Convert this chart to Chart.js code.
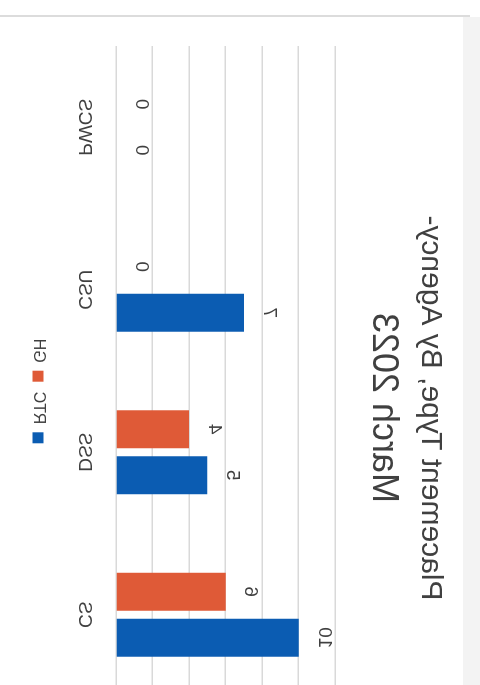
<!DOCTYPE html>
<html>
<head>
<meta charset="utf-8">
<script src="https://cdn.jsdelivr.net/npm/chart.js@4.4.0/dist/chart.umd.min.js"></script>
<style>
  html, body { margin: 0; padding: 0; background: #ffffff; overflow: hidden; width: 480px; height: 685px; }
  #frameTop { position: absolute; left: 0; top: 15px; width: 470px; height: 2px; background: #dcdcdc; }
  #frameSide { position: absolute; left: 463px; top: 17px; width: 17px; height: 668px; background: #f3f3f3; }
  /* the chart sheet lies turned and flipped on the page */
  #chart {
    position: absolute;
    left: -151px; top: 168px;
    width: 782px; height: 480px;
    transform-origin: 50% 50%;
    transform: matrix(0, -1, -1, 0, 0, 0);
  }
</style>
</head>
<body>
<div id="frameSide"></div>
<div id="frameTop"></div>
<canvas id="chart" width="782" height="480"></canvas>
<script>
// Placement counts by agency
const categories = ['CS', 'DSS', 'CSU', 'PWCS'];
const rtcValues = [10, 5, 7, 0];
const ghValues = [6, 4, 0, 0];
const seriesNames = ['RTC', 'GH'];
const titleLine = 'Placement Type, By Agency-';
const subtitleLine = 'March 2023';
const valueMin = 0;
const valueMax = 12;
const valueStep = 2;

const FONT = '"Liberation Sans", Arial, sans-serif';
const TEXT = '#404040';

// value printed just past the end of each bar
const barValueLabels = {
  id: 'barValueLabels',
  afterDatasetsDraw(chart) {
    const ctx = chart.ctx;
    ctx.save();
    ctx.font = '19px ' + FONT;
    ctx.fillStyle = TEXT;
    ctx.textAlign = 'center';
    ctx.textBaseline = 'middle';
    chart.data.datasets.forEach((ds, i) => {
      const meta = chart.getDatasetMeta(i);
      meta.data.forEach((bar, j) => {
        ctx.fillText(String(ds.data[j]), bar.x, bar.y - 25);
      });
    });
    ctx.restore();
  }
};

// legend sits a little toward the right of the sheet
const legendNudge = {
  id: 'legendNudge',
  afterLayout(chart) {
    if (chart.legend) { chart.legend.left += 34; }
  }
};

new Chart(document.getElementById('chart'), {
  type: 'bar',
  data: {
    labels: categories,
    datasets: [
      { label: seriesNames[0], data: rtcValues, backgroundColor: '#0b5cb2',
        categoryPercentage: 0.566, barPercentage: 0.826 },
      { label: seriesNames[1], data: ghValues, backgroundColor: '#df5a37',
        categoryPercentage: 0.566, barPercentage: 0.826 }
    ]
  },
  options: {
    responsive: false,
    animation: false,
    devicePixelRatio: 1,
    layout: { padding: { left: 29, right: 29, top: 0, bottom: 20 } },
    plugins: {
      title: {
        display: true, text: titleLine, color: TEXT,
        font: { family: FONT, size: 30, weight: 'normal', lineHeight: 1.2 },
        padding: { top: 32, bottom: 0 }
      },
      subtitle: {
        display: true, text: subtitleLine, color: TEXT,
        font: { family: FONT, size: 36, weight: 'normal', lineHeight: 1.2 },
        padding: { top: 7, bottom: 26.5 }
      },
      legend: {
        position: 'bottom',
        labels: {
          color: TEXT, boxWidth: 11, boxHeight: 11, padding: 10,
          font: { family: FONT, size: 16 }
        }
      },
      tooltip: { enabled: false }
    },
    scales: {
      x: {
        grid: { display: false, drawTicks: false },
        border: { display: false },
        ticks: { color: TEXT, padding: 20, font: { family: FONT, size: 19 } },
        afterFit(scale) { scale.height = 60; }
      },
      y: {
        min: valueMin, max: valueMax,
        grid: { color: '#d9d9d9', lineWidth: 1.5, drawTicks: false },
        border: { display: false },
        ticks: { display: false, stepSize: valueStep },
        afterFit(scale) { scale.width = 74; }
      }
    }
  },
  plugins: [barValueLabels, legendNudge]
});
</script>
</body>
</html>
